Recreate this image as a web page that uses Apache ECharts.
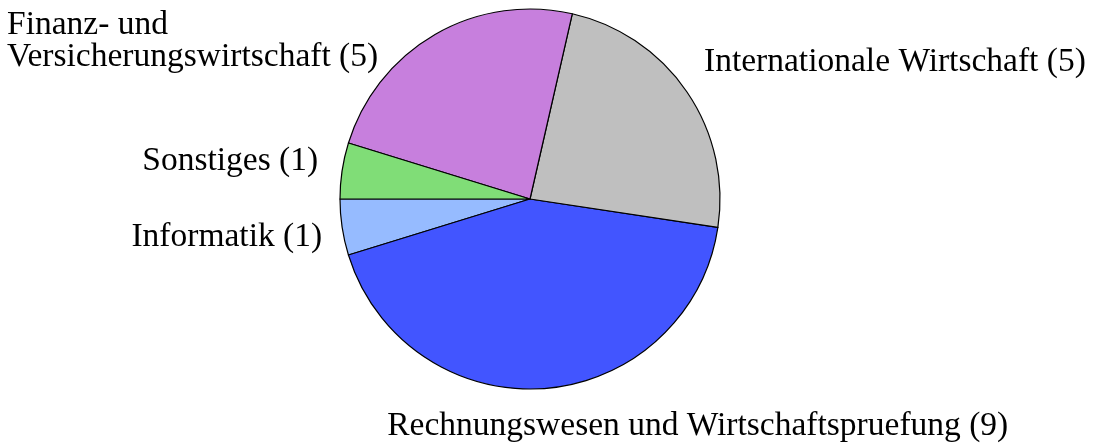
<!DOCTYPE html>
<html>
<head>
<meta charset="utf-8">
<script src="https://cdn.jsdelivr.net/npm/echarts@6/dist/echarts.min.js"></script>
<style>
html,body{margin:0;padding:0;background:#fff;}
#chart{width:1105px;height:443px;}
</style>
</head>
<body>
<div id="chart"></div>
<script>
const categories = ['Informatik', 'Rechnungswesen und Wirtschaftspruefung', 'Internationale Wirtschaft', 'Finanz- und\nVersicherungswirtschaft', 'Sonstiges'];
const values = [1, 9, 5, 5, 1];
const colors = ['#96bbff', '#4255ff', '#bfbfbf', '#c77fdd', '#80dd77'];
const labelShift = [
  {dx: -15, dy: 10},
  {dx: -162, dy: 38},
  {dx: 12, dy: -30},
  {dx: -423, dy: 7, align: 'left'},
  {dx: -19, dy: -9}
];

const chart = echarts.init(document.getElementById('chart'), null, {renderer: 'canvas'});
chart.setOption({
  animation: false,
  backgroundColor: '#ffffff',
  series: [{
    type: 'pie',
    center: [530, 199],
    radius: 190,
    startAngle: 180,
    clockwise: false,
    avoidLabelOverlap: false,
    minShowLabelAngle: 0,
    itemStyle: {borderColor: '#000', borderWidth: 1.2},
    label: {
      show: true,
      position: 'outside',
      formatter: p => p.name + ' (' + p.value + ')',
      fontFamily: 'Liberation Serif',
      fontSize: 33.5,
      color: '#000',
      lineHeight: 32
    },
    labelLine: {show: false, length: 0, length2: 0},
    labelLayout: function (params) {
      const s = labelShift[params.dataIndex];
      const r = {dx: s.dx, dy: s.dy, hideOverlap: false, moveOverlap: null};
      if (s.align) r.align = s.align;
      return r;
    },
    emphasis: {disabled: true},
    data: categories.map((c, i) => ({name: c, value: values[i], itemStyle: {color: colors[i]}}))
  }]
});
</script>
</body>
</html>
